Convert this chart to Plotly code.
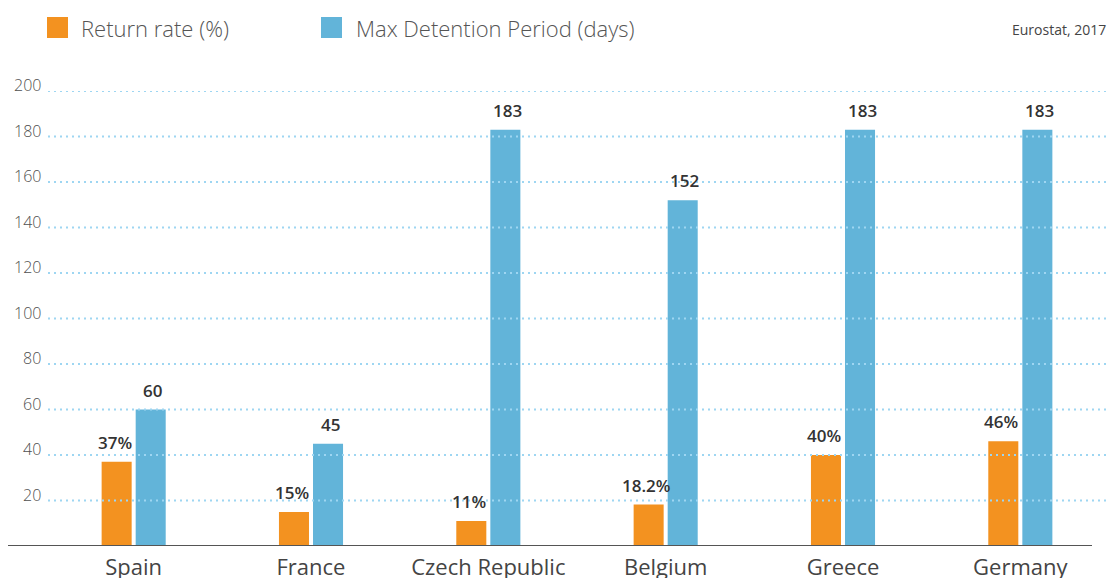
import plotly.graph_objects as go

countries = ["Spain", "France", "Czech Republic", "Belgium", "Greece", "Germany"]
return_rate = [37, 15, 11, 18.2, 40, 46]
return_labels = ["37%", "15%", "11%", "18.2%", "40%", "46%"]
max_detention = [60, 45, 183, 152, 183, 183]
detention_labels = ["60", "45", "183", "152", "183", "183"]
y_ticks = [20, 40, 60, 80, 100, 120, 140, 160, 180, 200]

ORANGE = "#F39220"
BLUE = "#62B4D9"
W, H = 1110, 578
ML, MR, MT, MB = 45, 1, 91, 32
PW = W - ML - MR
PH = H - MT - MB


def px_x(px):
    return (px - ML) / PW


def px_y(py):
    return (H - MB - py) / PH


fig = go.Figure()
fig.add_trace(go.Bar(x=countries, y=return_rate, marker_color=ORANGE,
                     marker_line_width=0, name="Return rate (%)", showlegend=False))
fig.add_trace(go.Bar(x=countries, y=max_detention, marker_color=BLUE,
                     marker_line_width=0, name="Max Detention Period (days)", showlegend=False))

shapes = []
annotations = []
# gridlines above bars + tick labels
for t in y_ticks:
    shapes.append(dict(type="line", xref="paper", yref="y", x0=px_x(48), x1=1.0,
                       y0=t, y1=t, layer="above",
                       line=dict(color="#9ED6F2", width=2, dash="2px,4px")))
    annotations.append(dict(xref="paper", yref="y", x=px_x(43), y=t, text=str(t),
                            xanchor="right", yanchor="middle", yshift=6, showarrow=False,
                            font=dict(family="Open Sans", size=16, color="#505050",
                                      weight=300)))
# baseline
shapes.append(dict(type="line", xref="paper", yref="y", x0=px_x(8), x1=px_x(1092),
                   y0=0, y1=0, layer="above", line=dict(color="#555555", width=2)))
# legend squares
shapes.append(dict(type="rect", xref="paper", yref="paper", x0=px_x(47), x1=px_x(68),
                   y0=px_y(38), y1=px_y(17), fillcolor=ORANGE, line_width=0))
shapes.append(dict(type="rect", xref="paper", yref="paper", x0=px_x(321), x1=px_x(342),
                   y0=px_y(38), y1=px_y(17), fillcolor=BLUE, line_width=0))

lab_font = dict(family="Open Sans", size=17, color="#333333", weight=600)
for c, v, lbl in zip(countries, return_rate, return_labels):
    annotations.append(dict(x=c, y=v, text=lbl, showarrow=False, xref="x", yref="y",
                            xshift=-19, yanchor="bottom", yshift=6, font=lab_font))
for c, v, lbl in zip(countries, max_detention, detention_labels):
    annotations.append(dict(x=c, y=v, text=lbl, showarrow=False, xref="x", yref="y",
                            xshift=19, yanchor="bottom", yshift=6, font=lab_font))

leg_font = dict(family="Open Sans", size=22, color="#555555", weight=300)
annotations.append(dict(xref="paper", yref="paper", x=px_x(79), y=px_y(28),
                        xanchor="left", yanchor="middle", text="Return rate (%)",
                        showarrow=False, font=leg_font))
annotations.append(dict(xref="paper", yref="paper", x=px_x(354), y=px_y(28),
                        xanchor="left", yanchor="middle", text="Max Detention Period (days)",
                        showarrow=False, font=leg_font))
annotations.append(dict(xref="paper", yref="paper", x=px_x(1108), y=px_y(29),
                        xanchor="right", yanchor="middle", text="Eurostat, 2017",
                        showarrow=False,
                        font=dict(family="Open Sans", size=14, color="#444444")))

fig.update_layout(
    width=W, height=H,
    margin=dict(l=ML, r=MR, t=MT, b=MB, pad=0, autoexpand=False),
    paper_bgcolor="white", plot_bgcolor="white",
    barmode="group", bargap=0.616, bargroupgap=0.118,
    shapes=shapes, annotations=annotations,
    font=dict(family="Open Sans"),
)
fig.update_xaxes(showgrid=False, showline=False, zeroline=False, ticks="",
                 automargin=False,
                 tickfont=dict(family="Open Sans", size=22, color="#444444"),
                 ticklabelstandoff=6)
fig.update_yaxes(range=[0, 200], showgrid=False, zeroline=False, showline=False,
                 showticklabels=False, ticks="", automargin=False)

fig.write_html("out.html", config={"displayModeBar": False},
               post_script="document.body.style.margin='0px';")
